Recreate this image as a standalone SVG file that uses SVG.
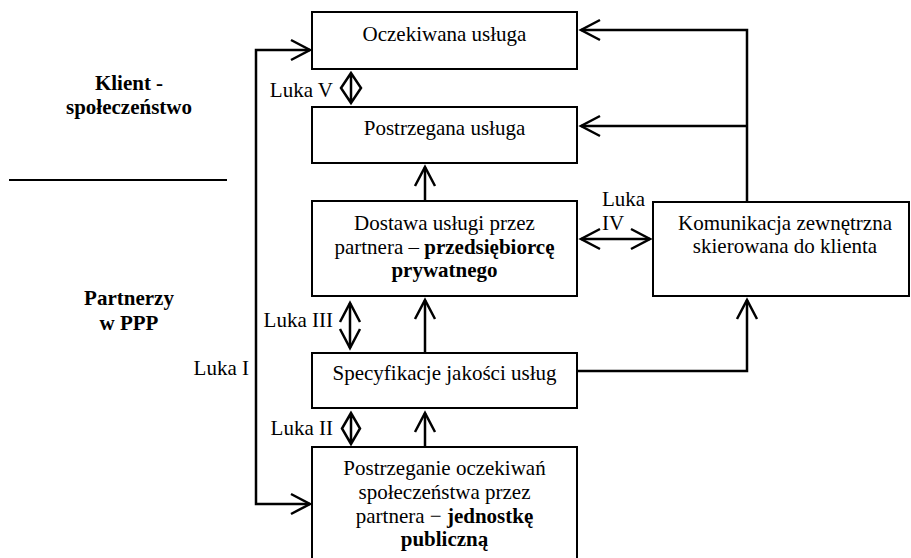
<svg xmlns="http://www.w3.org/2000/svg" width="911" height="558" viewBox="0 0 911 558">
<style>
  .box { fill: #fff; stroke: #000; stroke-width: 2; }
  .t { font-family: "Liberation Serif", "DejaVu Serif", "Noto Serif", serif; font-size: 21px; fill: #000; }
  .c { text-anchor: middle; }
  .e { text-anchor: end; }
  .b { font-weight: bold; }
  .ln { fill: none; stroke: #000; stroke-width: 2.5; stroke-linejoin: miter; }
</style>
<defs>
  <marker id="ah" viewBox="-22 -12 26 24" markerWidth="26" markerHeight="24" refX="0" refY="0" markerUnits="userSpaceOnUse" orient="auto-start-reverse" overflow="visible">
    <path d="M-19,-10 L0,0 L-19,10" fill="none" stroke="#000" stroke-width="2.5" stroke-linejoin="miter"/>
  </marker>
</defs>
<rect width="911" height="558" fill="#fff"/>

<g id="side-labels">
  <text class="t c b" x="129" y="90">Klient -</text>
  <text class="t c b" x="129" y="114">społeczeństwo</text>
  <line x1="9" y1="180" x2="227" y2="180" stroke="#000" stroke-width="2"/>
  <text class="t c b" x="129" y="305">Partnerzy</text>
  <text class="t c b" x="129" y="330">w PPP</text>
</g>

<g id="connectors">
  <path class="ln" d="M310,50 L256,50 L256,504 L310,504" marker-start="url(#ah)" marker-end="url(#ah)"/>
  <path class="ln" d="M747,202 L747,30 L581,30" marker-end="url(#ah)"/>
  <path class="ln" d="M747,126 L581,126" marker-end="url(#ah)"/>
  <path class="ln" d="M581,239 L650,239" marker-start="url(#ah)" marker-end="url(#ah)"/>
  <path class="ln" d="M577,371 L747,371 L747,300" marker-end="url(#ah)"/>
  <path class="ln" d="M425,201 L425,167" marker-end="url(#ah)"/>
  <path class="ln" d="M425,353 L425,300" marker-end="url(#ah)"/>
  <path class="ln" d="M425,447 L425,413" marker-end="url(#ah)"/>
  <path class="ln" d="M350,303 L350,348" marker-start="url(#ah)" marker-end="url(#ah)"/>
  <path class="ln" d="M351,73 L341,88 L351,103 L361,88 Z M351,73 L351,103"/>
  <path class="ln" d="M351,413 L342,428.5 L351,444 L360,428.5 Z M351,413 L351,444"/>
  <text class="t e" x="333" y="97">Luka V</text>
  <text class="t e" x="333" y="327">Luka III</text>
  <text class="t e" x="333" y="435">Luka II</text>
  <text class="t e" x="249" y="375">Luka I</text>
  <text class="t" x="602" y="206">Luka</text>
  <text class="t" x="602" y="230">IV</text>
</g>

<g id="oczekiwana">
  <rect class="box" x="312" y="12" width="265" height="57"/>
  <text class="t c" x="444.5" y="41">Oczekiwana usługa</text>
</g>

<g id="postrzegana">
  <rect class="box" x="312" y="107" width="265" height="56"/>
  <text class="t c" x="444.5" y="135">Postrzegana usługa</text>
</g>

<g id="dostawa">
  <rect class="box" x="312" y="201" width="265" height="95"/>
  <text class="t c" x="444.5" y="230">Dostawa usługi przez</text>
  <text class="t c" x="444.5" y="254">partnera – <tspan class="b">przedsiębiorcę</tspan></text>
  <text class="t c b" x="444.5" y="277">prywatnego</text>
</g>

<g id="komunikacja">
  <rect class="box" x="653" y="202" width="256" height="94"/>
  <text class="t c" x="785" y="230">Komunikacja zewnętrzna</text>
  <text class="t c" x="785" y="253">skierowana do klienta</text>
</g>

<g id="specyfikacje">
  <rect class="box" x="312" y="353" width="265" height="55"/>
  <text class="t c" x="444.5" y="380">Specyfikacje jakości usług</text>
</g>

<g id="postrzeganie">
  <rect class="box" x="312" y="447" width="265" height="120"/>
  <text class="t c" x="444.5" y="475">Postrzeganie oczekiwań</text>
  <text class="t c" x="444.5" y="499">społeczeństwa przez</text>
  <text class="t c" x="444.5" y="523">partnera − <tspan class="b">jednostkę</tspan></text>
  <text class="t c b" x="444.5" y="546">publiczną</text>
</g>
</svg>
